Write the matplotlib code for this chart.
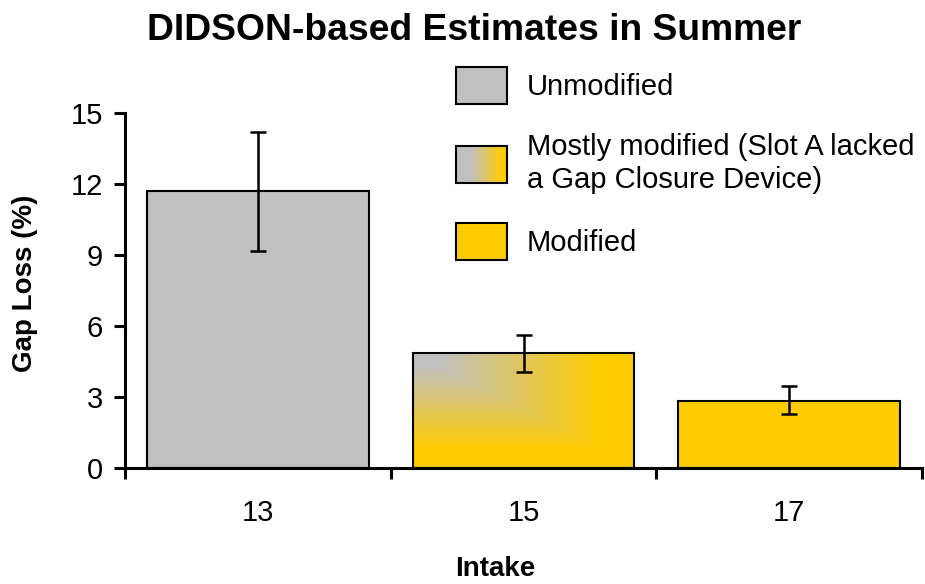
import numpy as np
import matplotlib
matplotlib.use("Agg")
import matplotlib.pyplot as plt
from matplotlib.patches import Patch, Rectangle
from matplotlib.legend_handler import HandlerBase
from matplotlib.colors import to_rgb

plt.rcParams['font.family'] = ['Liberation Sans', 'DejaVu Sans']

# data
intakes = ['13', '15', '17']
gap_loss = [11.7, 4.86, 2.85]
err_low = [9.18, 4.05, 2.28]
err_high = [14.18, 5.63, 3.45]
kinds = ['Unmodified', 'Mostly modified', 'Modified']
legend_labels = ['Unmodified',
                 'Mostly modified (Slot A lacked\na Gap Closure Device)',
                 'Modified']

GRAY = '#C0C0C0'
GOLD = '#FFCC00'


def mix(s):
    g, y = np.array(to_rgb(GRAY)), np.array(to_rgb(GOLD))
    s = np.clip(s, 0, 1)[..., None]
    return g * (1 - s) + y * s


class GradientHandler(HandlerBase):
    def create_artists(self, legend, orig_handle, xdescent, ydescent,
                       width, height, fontsize, trans):
        n = 50
        arts = []
        for i in range(n):
            u = (i + 0.5) / n
            c = mix(np.array((u - 0.3) / 0.6))
            arts.append(Rectangle((-xdescent + i * width / n, -ydescent),
                                  width / n * 1.05, height, facecolor=c,
                                  edgecolor='none', transform=trans))
        arts.append(Rectangle((-xdescent, -ydescent), width, height,
                              fill=False, edgecolor='black', lw=1.5,
                              transform=trans))
        return arts


fig = plt.figure(figsize=(9.25, 5.84), dpi=100)
ax = fig.add_axes([125 / 925, 1 - 468 / 584, 797 / 925, 355 / 584])

x = np.arange(len(intakes))
colors = [GRAY if k == 'Unmodified' else GOLD for k in kinds]
bars = ax.bar(x, gap_loss, width=0.835, color=colors, edgecolor='black',
              linewidth=1.5, zorder=2)

# corner gradient for the partly modified intake
b = bars[1]
b.set_facecolor('none')
b.set_zorder(3)
nx, ny = 200, 120
uu, vv = np.meshgrid(np.linspace(0, 1, nx), np.linspace(0, 1, ny))
img = mix((np.maximum(uu, vv) - 0.12) / 0.72)
im = ax.imshow(img, extent=(b.get_x(), b.get_x() + b.get_width(), 0, b.get_height()),
               origin='upper', aspect='auto', zorder=2, interpolation='bilinear')
im.set_clip_path(b)

yerr = [np.array(gap_loss) - np.array(err_low), np.array(err_high) - np.array(gap_loss)]
ax.errorbar(x, gap_loss, yerr=yerr, fmt='none', ecolor='black', elinewidth=1.8,
            capsize=6, capthick=1.8, zorder=4)

ax.set_xlim(-0.5, len(intakes) - 0.5)
ax.set_ylim(0, 15)
ax.set_yticks(np.arange(0, 16, 3))
ax.set_xticks(x)
ax.set_xticklabels(intakes)
ax.set_xticks(np.arange(-0.5, len(intakes)), minor=True)
ax.tick_params(axis='x', which='major', length=0, pad=22, labelsize=21)
ax.tick_params(axis='x', which='minor', length=8, width=2.2, direction='out')
ax.tick_params(axis='y', length=8, width=2.2, direction='out', pad=8, labelsize=21)

for side in ['top', 'right']:
    ax.spines[side].set_visible(False)
for side in ['left', 'bottom']:
    ax.spines[side].set_linewidth(2.2)

ax.set_ylabel('Gap Loss (%)', fontsize=20, fontweight='bold', va='center')
ax.yaxis.set_label_coords(-0.1255, 0.52)
ax.set_xlabel('Intake', fontsize=20, fontweight='bold', va='baseline')
ax.xaxis.set_label_coords(0.465, -0.305)

fig.suptitle('DIDSON-based Estimates in Summer', x=474 / 925, y=1 - 30 / 584,
             va='center', fontsize=26.8, fontweight='bold')

grad_proxy = Patch()
handles = [Patch(facecolor=GRAY, edgecolor='black', lw=1.5), grad_proxy,
           Patch(facecolor=GOLD, edgecolor='black', lw=1.5)]
leg = ax.legend(handles, legend_labels, handler_map={grad_proxy: GradientHandler()},
                loc='upper left', bbox_to_anchor=(456 / 925, 1 - 67 / 584),
                bbox_transform=fig.transFigure, frameon=False, fontsize=21,
                borderpad=0, borderaxespad=0, handlelength=1.75, handleheight=1.58,
                handletextpad=0.68, labelspacing=1.0)

fig.savefig('out.png', dpi=100)
